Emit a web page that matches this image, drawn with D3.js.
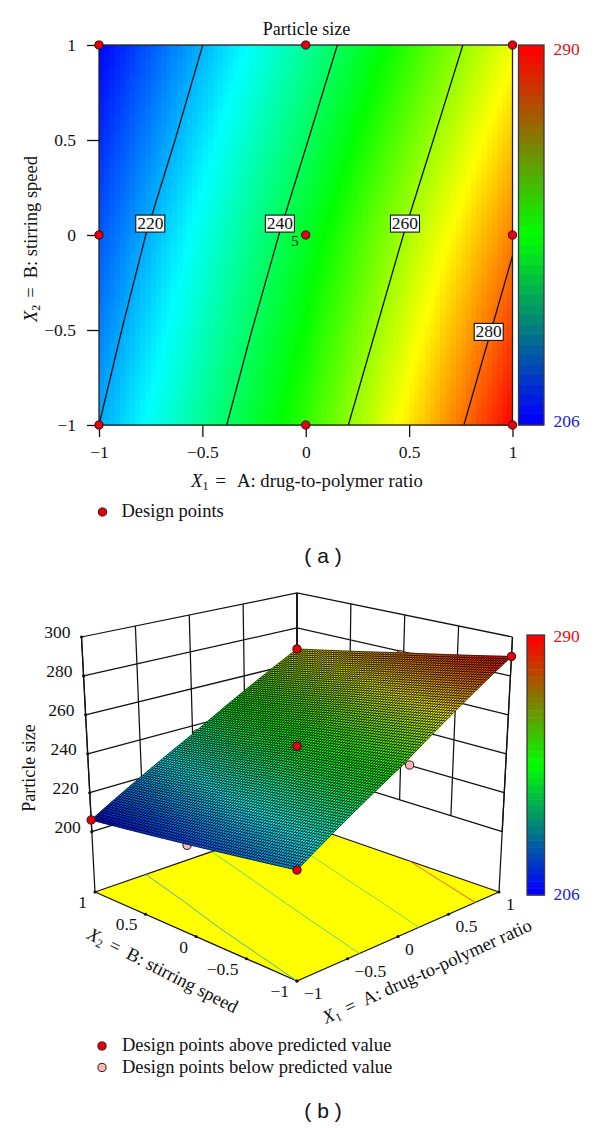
<!DOCTYPE html>
<html><head><meta charset="utf-8">
<style>
html,body{margin:0;padding:0;background:#fff}
svg{display:block}
text{font-family:"Liberation Serif",serif;font-size:18.5px;fill:#111}
.tick{font-size:17.5px}
.cap{font-family:"Liberation Sans",sans-serif;font-size:21px}
</style>
<script src="https://cdn.jsdelivr.net/npm/d3@7"></script>
</head><body><svg id="c" width="600" height="1128"></svg>
<script>
// ---- data ----
const axisTicks=[-1,-0.5,0,0.5,1];
const zTicks=[200,220,240,260,280,300];
const responseX1=[-1,0,1];
const responseX2=[1,0,-1];
const responseRows=[[206,235.5,268],[213,245,279.5],[220,252,290]];
const colorMin=206, colorMax=290;
const contourX2=[-1,-0.5,0,0.5,1];
const contourLevels=[220,240,260];
const contourX1=[[-1,-0.89,-0.774,-0.632,-0.498],[-0.382,-0.26,-0.13,0.012,0.153],[0.206,0.339,0.472,0.617,0.76]];
const contour280=[[0.765,-1],[1,-0.11]];
const contourLabels=[{t:"220",x:-0.752,y:0.06},{t:"240",x:-0.125,y:0.06},{t:"260",x:0.48,y:0.06},{t:"280",x:0.885,y:-0.51}];
const designPointsA=[[-1,1],[0,1],[1,1],[-1,0],[0,0],[1,0],[-1,-1],[0,-1],[1,-1]];
const abovePoints=[[-1,1,206],[-1,-1,220],[1,-1,290],[1,1,268],[0,0,246]];
const belowPoints=[[-1,0.065,212],[0.045,1,235],[0.07,-1,251],[1,0.03,278]];
const floorContourColors=["#44b7b0","#62d87a","#7ddc55","#ee7a20"];

const svg=d3.select("#c");
const INK="#111";
const minus=v=>String(v).replace("-","\u2212");
const rainbow=d3.scaleLinear().domain([206,227,248,269,290]).range(["#0000ff","#00ffff","#00ff00","#ffff00","#ff0000"]).clamp(true);
const barColor=d3.scaleLinear().domain([colorMin,(colorMin+colorMax)/2,colorMax]).range(["#0000ff","#00ff00","#ff0000"]).clamp(true);

const ix=d3.scaleLinear().domain(responseX1).range([0,1,2]);
const iy=d3.scaleLinear().domain(responseX2).range([0,1,2]);
function resp(x,y){
  const a=ix(x),b=iy(y);
  const i=Math.min(1,Math.floor(a)),j=Math.min(1,Math.floor(b)),u=a-i,v=b-j;
  const R=responseRows;
  return (1-u)*(1-v)*R[j][i]+u*(1-v)*R[j][i+1]+(1-u)*v*R[j+1][i]+u*v*R[j+1][i+1];
}
function mtitle(g,parts,attrs){
  const t=g.append("text");
  Object.entries(attrs).forEach(([k,v])=>t.attr(k,v));
  parts.forEach(p=>{
    const s=t.append("tspan").text(p.t);
    if(p.i)s.attr("font-style","italic");
    if(p.sub)s.attr("font-size",12).attr("dy",3);
    if(p.up)s.attr("dy",-3);
    if(p.dx)s.attr("dx",p.dx);
  });
  return t;
}
function colorbar(x0,x1,y0,y1){
  const n=38, band=d3.scaleBand().domain(d3.range(n)).range([y0,y1]);
  const g=svg.append("g");
  g.selectAll("rect").data(d3.range(n)).join("rect")
    .attr("x",x0).attr("width",x1-x0).attr("y",d=>band(d)).attr("height",band.bandwidth()+0.5)
    .attr("fill",d=>barColor(colorMax-(colorMax-colorMin)*d/(n-1)));
  g.append("rect").attr("x",x0).attr("y",y0).attr("width",x1-x0).attr("height",y1-y0)
    .attr("fill","none").attr("stroke","#3a3a3a").attr("stroke-width",1.3);
}
function marker(g,px,py,fill){
  g.append("circle").attr("cx",px).attr("cy",py).attr("r",4.1).attr("fill",fill).attr("stroke","#3a0a0a").attr("stroke-width",1);
}

// ================= Panel (a) =================
const xA=d3.scaleLinear().domain([-1,1]).range([99,512.5]);
const yA=d3.scaleLinear().domain([-1,1]).range([425,45]);
const gA=svg.append("g");
const cellsW=80,cellsH=76;
const cellData=d3.cross(d3.range(cellsW),d3.range(cellsH));
const cx=d3.scaleLinear().domain([0,cellsW]).range([-1,1]);
const cy=d3.scaleLinear().domain([0,cellsH]).range([-1,1]);
gA.append("g").attr("shape-rendering","crispEdges").selectAll("rect").data(cellData).join("rect")
  .attr("x",d=>xA(cx(d[0]))).attr("y",d=>yA(cy(d[1]+1)))
  .attr("width",d=>xA(cx(d[0]+1))-xA(cx(d[0]))+0.5).attr("height",d=>yA(cy(d[1]))-yA(cy(d[1]+1))+0.5)
  .attr("fill",d=>rainbow(resp(cx(d[0]+0.5),cy(d[1]+0.5))));
const lineA=d3.line().x(d=>xA(d[0])).y(d=>yA(d[1]));
contourLevels.forEach((lv,i)=>{
  gA.append("path").attr("d",lineA(contourX2.map((v,j)=>[contourX1[i][j],v]))).attr("fill","none").attr("stroke","#111").attr("stroke-width",1.3);
});
gA.append("path").attr("d",lineA(contour280)).attr("fill","none").attr("stroke","#111").attr("stroke-width",1.3);
gA.append("rect").attr("x",xA(-1)).attr("y",yA(1)).attr("width",xA(1)-xA(-1)).attr("height",yA(-1)-yA(1)).attr("fill","none").attr("stroke","#222").attr("stroke-width",1.3);
const axB=d3.axisBottom(xA).tickValues(axisTicks).tickSize(12).tickPadding(9).tickFormat(minus);
const axL=d3.axisLeft(yA).tickValues(axisTicks).tickSize(12).tickPadding(11).tickFormat(minus);
[gA.append("g").attr("transform",`translate(0,${yA(-1)})`).call(axB),gA.append("g").attr("transform",`translate(${xA(-1)},0)`).call(axL)].forEach(a=>{
  a.select(".domain").remove();
  a.selectAll("line").attr("stroke",INK).attr("stroke-width",1.3);
  a.selectAll("text").style("font-family",'"Liberation Serif",serif').style("font-size","17.5px").attr("fill",INK);
});
contourLabels.forEach(l=>{
  const px=xA(l.x),py=yA(l.y);
  gA.append("rect").attr("x",px-14.5).attr("y",py-8.5).attr("width",29).attr("height",17).attr("fill","#fff").attr("stroke","#111").attr("stroke-width",1.1);
  gA.append("text").attr("class","tick").attr("x",px).attr("y",py+5.5).attr("text-anchor","middle").text(l.t);
});
gA.append("text").style("font-size","15px").attr("x",295).attr("y",246).attr("text-anchor","middle").text("5");
designPointsA.forEach(d=>marker(gA,xA(d[0]),yA(d[1]),"#e3000f"));
gA.append("text").attr("x",306.5).attr("y",35).attr("text-anchor","middle").style("font-size","18px").text("Particle size");
mtitle(gA,[{t:"X",i:1},{t:"1",sub:1},{t:"=",up:1,dx:7},{t:"A: drug-to-polymer ratio",dx:11}],{x:191,y:487}).style("font-size","18.7px");
mtitle(gA,[{t:"X",i:1},{t:"2",sub:1},{t:"=",up:1,dx:7},{t:"B: stirring speed",dx:9}],{transform:"translate(37,322) rotate(-90)"});
marker(gA,102.5,512,"#e3000f");
gA.append("text").attr("x",121.5).attr("y",517).text("Design points");
colorbar(518.5,544,45,425);
gA.append("text").attr("class","tick").attr("x",553.5).attr("y",55).style("fill","#e01010").text(colorMax);
gA.append("text").attr("class","tick").attr("x",553.5).attr("y",427).style("fill","#2020d0").text(colorMin);
gA.append("text").attr("class","cap").attr("x",323).attr("y",563).attr("text-anchor","middle").text("( a )");

// ================= Panel (b) =================
const unit=d3.scaleLinear().domain([-1,1]).range([0,1]);
const zUnit=d3.scaleLinear().domain([169,300]).range([0,1]);
const boxFloor={F:[297,981],R:[499,892],L:[95,892],B:[297,822]};
const boxTop={F:[297,696],R:[512.5,637],L:[81.5,637],B:[297,593]};
function quad(q,u,v,k){return (1-u)*(1-v)*q.F[k]+u*(1-v)*q.R[k]+(1-u)*v*q.L[k]+u*v*q.B[k];}
function project(x,y,z){
  const u=unit(x),v=unit(y),t=zUnit(z);
  return [0,1].map(k=>(1-t)*quad(boxFloor,u,v,k)+t*quad(boxTop,u,v,k));
}
const floorZ=zUnit.domain()[0];
const gB=svg.append("g");
const line3=d3.line();
const seg=(a,b)=>line3([project(...a),project(...b)]);
gB.append("path").attr("d",line3([[-1,-1],[1,-1],[1,1],[-1,1]].map(c=>project(c[0],c[1],floorZ)))+"Z")
  .attr("fill","#ffff00").attr("stroke","#111").attr("stroke-width",1.3).attr("stroke-linejoin","round");
contourLevels.forEach((lv,i)=>{
  gB.append("path").attr("d",line3(contourX2.map((v,j)=>project(contourX1[i][j],v,floorZ)))).attr("fill","none").attr("stroke",floorContourColors[i]).attr("stroke-width",1);
});
gB.append("path").attr("d",line3(contour280.map(c=>project(c[0],c[1],floorZ)))).attr("fill","none").attr("stroke",floorContourColors[3]).attr("stroke-width",1.1);
const wall=gB.append("g").attr("fill","none").attr("stroke","#111").attr("stroke-width",1.25);
zTicks.forEach(z=>{
  wall.append("path").attr("d",line3([project(-1,1,z),project(1,1,z),project(1,-1,z)]));
});
axisTicks.forEach(t=>{
  wall.append("path").attr("d",seg([t,1,200],[t,1,300]));
  wall.append("path").attr("d",seg([1,t,200],[1,t,300]));
});
wall.append("path").attr("d",seg([-1,1,floorZ],[-1,1,300]));
wall.append("path").attr("d",seg([1,-1,floorZ],[1,-1,300]));
wall.append("path").attr("d",seg([1,1,floorZ],[1,1,300]));
zTicks.forEach(z=>{
  const p=project(-1,1,z);
  gB.append("circle").attr("cx",p[0]).attr("cy",p[1]).attr("r",1.6).attr("fill","#111");
  gB.append("text").attr("class","tick").attr("x",p[0]-11).attr("y",p[1]+1).attr("text-anchor","end").text(z);
});
axisTicks.forEach(t=>{
  const a=project(-1,t,floorZ), b=project(t,-1,floorZ);
  gB.append("circle").attr("cx",a[0]).attr("cy",a[1]).attr("r",1.6).attr("fill","#111");
  gB.append("circle").attr("cx",b[0]).attr("cy",b[1]).attr("r",1.6).attr("fill","#111");
  gB.append("text").attr("class","tick").attr("x",a[0]-8).attr("y",a[1]+16).attr("text-anchor","end").text(minus(t));
  gB.append("text").attr("class","tick").attr("x",b[0]+7).attr("y",b[1]+18).attr("text-anchor","start").text(minus(t));
});
belowPoints.forEach(d=>{const p=project(...d);marker(gB,p[0],p[1],"#f6b9b3");});
const N=90, FN=50;
const gs=d3.scaleLinear().domain([0,FN]).range([-1,1]);
const surf=gB.append("g");
surf.selectAll("path").data(d3.cross(d3.range(FN),d3.range(FN))).join("path")
  .attr("d",d=>line3([[d[0],d[1]],[d[0]+1,d[1]],[d[0]+1,d[1]+1],[d[0],d[1]+1]].map(c=>{const x=gs(c[0]),y=gs(c[1]);return project(x,y,resp(x,y));}))+"Z")
  .attr("fill",d=>rainbow(resp(gs(d[0]+0.5),gs(d[1]+0.5))))
  .attr("stroke",d=>rainbow(resp(gs(d[0]+0.5),gs(d[1]+0.5)))).attr("stroke-width",0.5);
const ms=d3.scaleLinear().domain([0,N]).range([-1,1]);
const meshPath=[];
d3.range(N+1).forEach(i=>{
  const a=ms(i);
  meshPath.push(line3(d3.range(0,N+1,5).map(j=>{const b=ms(j);return project(a,b,resp(a,b));})));
  meshPath.push(line3(d3.range(0,N+1,5).map(j=>{const b=ms(j);return project(b,a,resp(b,a));})));
});
surf.append("path").attr("d",meshPath.join("")).attr("fill","none").attr("stroke","#000").attr("stroke-width",0.85).attr("stroke-opacity",0.85);
abovePoints.forEach(d=>{const p=project(...d);marker(gB,p[0],p[1],"#e3000f");});
gB.append("text").attr("transform","translate(35,768) rotate(-90)").attr("text-anchor","middle").style("font-size","18px").text("Particle size");
mtitle(gB,[{t:"X",i:1},{t:"2",sub:1},{t:"=",up:1,dx:7},{t:"B: stirring speed",dx:9}],{transform:"translate(86,938) rotate(27)"});
mtitle(gB,[{t:"X",i:1},{t:"1",sub:1},{t:"=",up:1,dx:7},{t:"A: drug-to-polymer ratio",dx:9}],{transform:"translate(326,1024) rotate(-24.5)"});
marker(gB,102,1046,"#e3000f");
gB.append("text").attr("x",122).attr("y",1051).text("Design points above predicted value");
marker(gB,102,1067.5,"#f6b9b3");
gB.append("text").attr("x",122).attr("y",1073).text("Design points below predicted value");
colorbar(527,544.5,635,895);
gB.append("text").attr("class","tick").attr("x",553.5).attr("y",642).style("fill","#e01010").text(colorMax);
gB.append("text").attr("class","tick").attr("x",553.5).attr("y",900).style("fill","#2020d0").text(colorMin);
gB.append("text").attr("class","cap").attr("x",323).attr("y",1118).attr("text-anchor","middle").text("( b )");
</script></body></html>
